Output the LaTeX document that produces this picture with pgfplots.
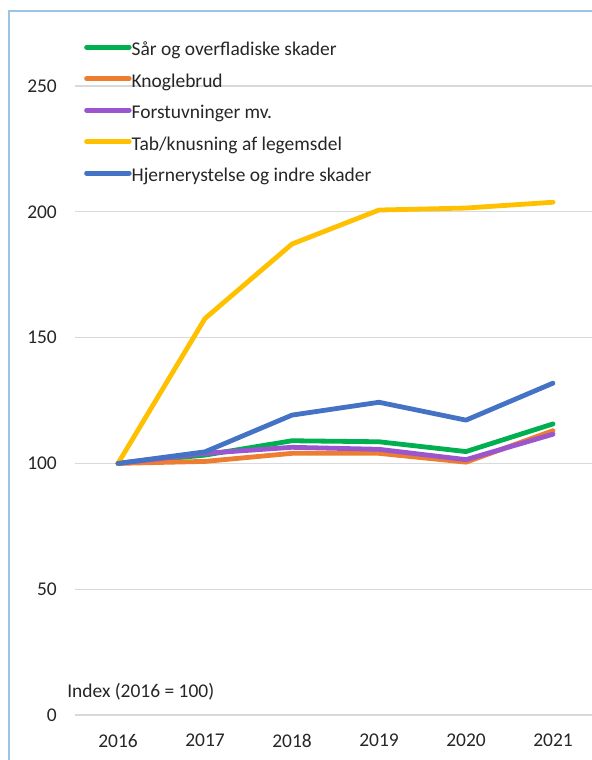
\documentclass[border=0pt]{standalone}
\usepackage{pgfplots}
\pgfplotsset{compat=1.18}
\usepackage{fontspec}
\setmainfont{Carlito}
\definecolor{cgreen}{HTML}{00B050}
\definecolor{corange}{HTML}{ED7D31}
\definecolor{cpurple}{HTML}{9A55CF}
\definecolor{cyellow}{HTML}{FFC000}
\definecolor{cblue}{HTML}{4472C4}
\definecolor{cgrid}{HTML}{D9D9D9}
\definecolor{cframe}{HTML}{9DC3E6}
\definecolor{ctext}{HTML}{262626}
\begin{document}
\begin{tikzpicture}
\path[use as bounding box] (0,0) rectangle (444pt,-570pt);
\begin{axis}[
    at={(55.875pt,-536.25pt)}, anchor=south west,
    scale only axis, width=391.5pt, height=471.75pt,
    clip=false,
    xmin=-0.5, xmax=5.5, ymin=0, ymax=250,
    xtick={0,...,5},
    xticklabels={2016,2017,2018,2019,2020,2021},
    ytick={0,50,...,250},
    /pgf/number format/assume math mode=true,
    ymajorgrids,
    grid style={cgrid, line width=1pt},
    axis line style={draw=none},
    major tick length=0pt,
    tick label style={font=\fontsize{14.6}{17}\selectfont, text=ctext},
    yticklabel style={xshift=-9.7pt},
    xticklabel style={yshift=-10.8pt},
    every axis plot/.append style={line width=3.6pt, line join=round, line cap=round},
    legend image code/.code={\draw[#1] (0pt,3pt) -- (32pt,3pt);},
    legend cell align=left,
    legend style={at={(axis description cs:0.018,1.0705)}, anchor=north west,
        draw=none, fill=none, font=\fontsize{14.6}{17}\selectfont, text=ctext,
        row sep=9.6pt, inner sep=0pt,
        nodes={inner sep=0pt, text height=10.5pt, text depth=3.5pt}},
]
\addplot[cgreen] coordinates {(0,100) (1,103.3) (2,109) (3,108.6) (4,104.7) (5,115.7)};
\addlegendentry{Sår og overfladiske skader}
\addplot[corange] coordinates {(0,100) (1,100.8) (2,104) (3,104) (4,100.5) (5,113)};
\addlegendentry{Knoglebrud}
\addplot[cpurple] coordinates {(0,100) (1,104) (2,106.4) (3,105.6) (4,101.5) (5,111.6)};
\addlegendentry{Forstuvninger mv.}
\addplot[cyellow] coordinates {(0,100) (1,157.6) (2,187.2) (3,200.7) (4,201.5) (5,203.8)};
\addlegendentry{Tab/knusning af legemsdel}
\addplot[cblue] coordinates {(0,100) (1,104.6) (2,119.2) (3,124.3) (4,117.2) (5,131.9)};
\addlegendentry{Hjernerystelse og indre skader}
\end{axis}
\node[anchor=west, inner sep=0pt, text=ctext, font=\fontsize{14.6}{17}\selectfont]
    at (50.25pt,-519pt) {Index (2016 = 100)};
\draw[cframe, line width=1pt] (6.75pt,-8.25pt) rectangle (470pt,-600pt);
\end{tikzpicture}
\end{document}
